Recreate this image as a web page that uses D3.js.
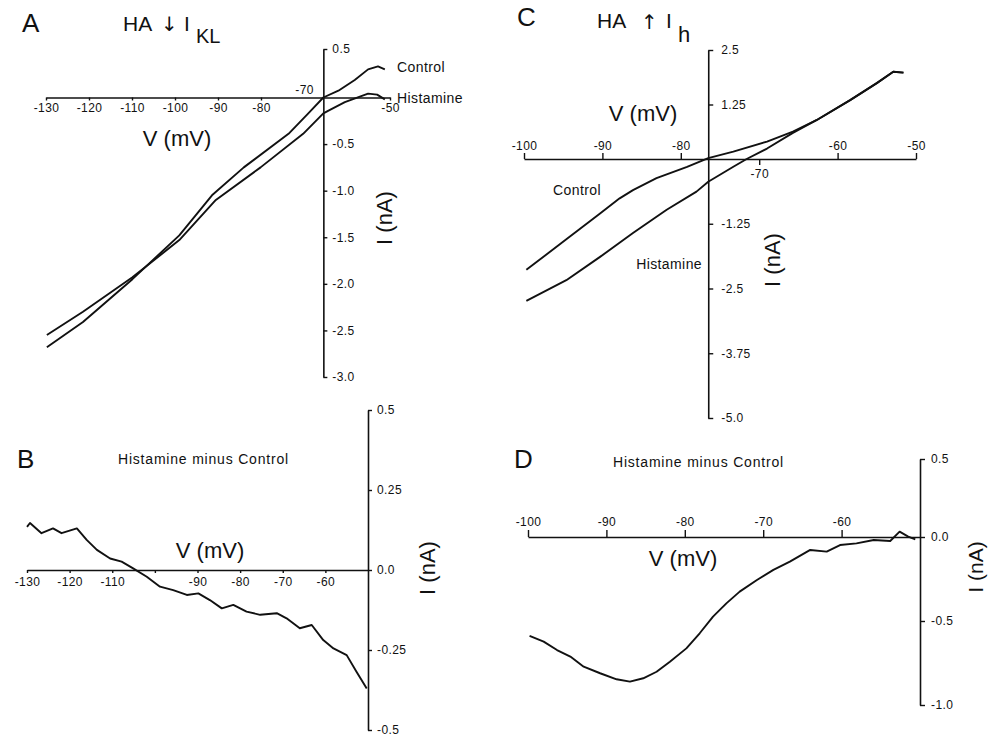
<!DOCTYPE html>
<html>
<head>
<meta charset="utf-8">
<script src="https://cdn.jsdelivr.net/npm/d3@7"></script>
<style>
body { margin: 0; background: #fff; }
text { font-family: "Liberation Sans", Arial, sans-serif; fill: #111; }
</style>
</head>
<body>
<div id="chart"></div>
<script>
// Panel A - whole cell I-V, control vs histamine (V in mV, I in nA)
var aControlV = [-129.8, -121.4, -109.9, -99.0, -91.4, -84.0, -73.6, -69.0, -65.5, -62.0, -58.2, -55.1, -52.8, -51.2];
var aControlI = [-2.68, -2.41, -1.95, -1.48, -1.05, -0.75, -0.39, -0.17, 0.0, 0.07, 0.18, 0.29, 0.32, 0.29];
var aHistV = [-129.8, -121.4, -109.9, -99.0, -90.5, -80.1, -70.2, -65.5, -64.3, -60.5, -55.1, -53.0, -51.2];
var aHistI = [-2.55, -2.30, -1.93, -1.53, -1.10, -0.75, -0.39, -0.17, -0.14, -0.05, 0.04, 0.03, -0.02];

// Panel B - histamine minus control (from A)
var bV = [-130, -129.3, -126.6, -123.9, -121.9, -118.3, -116.0, -113.6, -110.5, -107.8, -105.1, -101.9, -98.8, -95.7, -92.5,
          -89.8, -87.1, -84.3, -81.6, -78.5, -75.3, -71.4, -69.1, -66.0, -63.2, -60.5, -58.1, -55.0, -52.7, -50.3];
var bI = [0.135, 0.147, 0.115, 0.13, 0.115, 0.13, 0.094, 0.063, 0.036, 0.026, 0.005, -0.021, -0.052, -0.063, -0.078,
          -0.073, -0.094, -0.12, -0.109, -0.13, -0.14, -0.135, -0.151, -0.182, -0.172, -0.219, -0.245, -0.266, -0.318, -0.37];

// Panel C - I-V, control vs histamine
var cControlV = [-99.7, -94.6, -90.3, -87.8, -86.1, -83.1, -79.2, -76.5, -73.3, -69.0, -65.7, -62.7, -58.4, -55.0, -52.9, -51.6];
var cControlI = [-2.14, -1.55, -1.05, -0.76, -0.60, -0.37, -0.15, 0.02, 0.17, 0.40, 0.63, 0.89, 1.35, 1.74, 2.0, 1.98];
var cHistV = [-99.7, -94.6, -90.3, -86.1, -81.8, -78.0, -76.5, -73.3, -71.6, -69.0, -65.7, -62.7, -58.4, -55.0, -52.9, -51.6];
var cHistI = [-2.74, -2.34, -1.89, -1.43, -0.98, -0.63, -0.44, -0.15, 0.0, 0.24, 0.60, 0.89, 1.35, 1.74, 2.0, 1.98];

// Panel D - histamine minus control (from C)
var dV = [-99.8, -98.0, -96.3, -94.6, -92.9, -90.8, -88.7, -87.0, -85.3, -83.6, -81.9, -79.8, -78.1, -76.4, -74.7, -73.0,
          -70.8, -68.7, -66.6, -64.0, -61.9, -60.2, -58.1, -55.9, -53.8, -52.6, -51.5, -50.6];
var dI = [-0.589, -0.623, -0.673, -0.712, -0.772, -0.811, -0.847, -0.861, -0.841, -0.802, -0.742, -0.663, -0.573, -0.474, -0.395, -0.325,
          -0.256, -0.196, -0.147, -0.077, -0.087, -0.048, -0.038, -0.018, -0.024, 0.034, 0.002, -0.014];

// tick values and labels
var aXTicks = [-130, -120, -110, -100, -90, -80, -50];
var aYTicks = [0.5, -0.5, -1.0, -1.5, -2.0, -2.5, -3.0];
var aYLabels = ["0.5", "-0.5", "-1.0", "-1.5", "-2.0", "-2.5", "-3.0"];
var bXTicks = [-130, -120, -110, -100, -90, -80, -70, -60];
var bXLabels = ["-130", "-120", "-110", "", "-90", "-80", "-70", "-60"];
var bYTicks = [0.5, 0.25, 0.0, -0.25, -0.5];
var bYLabels = ["0.5", "0.25", "0.0", "-0.25", "-0.5"];
var cXTicks = [-100, -90, -80, -60, -50];
var cYTicks = [2.5, 1.25, -1.25, -2.5, -3.75, -5.0];
var cYLabels = ["2.5", "1.25", "-1.25", "-2.5", "-3.75", "-5.0"];
var dXTicks = [-100, -90, -80, -70, -60];
var dYTicks = [0.5, 0.0, -0.5, -1.0];
var dYLabels = ["0.5", "0.0", "-0.5", "-1.0"];

// where the vertical current axis crosses the voltage axis
var aAxisV = -65.5;
var cAxisV = -76.5;

var svg = d3.select("#chart").append("svg")
    .attr("width", 990)
    .attr("height", 738)
    .style("background", "#fff");

/* scales, one set per panel */
var xA = d3.scaleLinear().domain([-130, -50]).range([46, 390]);
var yA = d3.scaleLinear().domain([-3, 0, 0.5]).range([377, 97.5, 49]);
var xB = d3.scaleLinear().domain([-130, -50]).range([27, 368]);
var yB = d3.scaleLinear().domain([-0.5, 0.5]).range([730, 410]);
var xC = d3.scaleLinear().domain([-100, -50]).range([524, 916]);
var yC = d3.scaleLinear().domain([-5, 0, 2.5]).range([418, 159, 50]);
var xD = d3.scaleLinear().domain([-100, -50]).range([528, 920]);
var yD = d3.scaleLinear().domain([-1, 0, 0.5]).range([705, 537, 459]);

function styleAxis(g, fontSize)
{
    g.attr("font-family", "Liberation Sans, Arial, sans-serif")
        .attr("font-size", fontSize);
    g.select(".domain").attr("stroke", "#111").attr("stroke-width", 1.6);
    g.selectAll(".tick line").attr("stroke", "#111").attr("stroke-width", 1.4);
    g.selectAll(".tick text").attr("fill", "#111").style("letter-spacing", "0.4px");
}

function drawTrace(xs, ys, xScale, yScale)
{
    var pts = [];
    for (var i = 0; i < xs.length; i++) {
        pts.push([xs[i], ys[i]]);
    }
    var line = d3.line()
        .x(function (d) { return xScale(d[0]); })
        .y(function (d) { return yScale(d[1]); });
    svg.append("path")
        .datum(pts)
        .attr("d", line)
        .attr("fill", "none")
        .attr("stroke", "#111")
        .attr("stroke-width", 1.9)
        .attr("stroke-linejoin", "round");
}

function addText(str, x, y, size, opts)
{
    opts = opts || {};
    var t = svg.append("text")
        .attr("x", x)
        .attr("y", y)
        .attr("font-size", size)
        .attr("text-anchor", opts.anchor || "start")
        .text(str);
    if (opts.rotate) {
        t.attr("transform", "rotate(-90," + x + "," + y + ")");
    }
    if (opts.spacing) {
        t.style("letter-spacing", opts.spacing + "px");
    }
    if (opts.family) {
        t.style("font-family", opts.family);
    }
    return t;
}

/* ---------- Panel A ---------- */
var gAx = svg.append("g")
    .attr("transform", "translate(0," + yA(0) + ")")
    .call(d3.axisBottom(xA).tickValues(aXTicks).tickSize(3).tickSizeOuter(0).tickPadding(3)
        .tickFormat(function (d) { return String(d); }));
styleAxis(gAx, 12);

var gAx70 = svg.append("g")
    .attr("transform", "translate(0," + yA(0) + ")")
    .call(d3.axisTop(xA).tickValues([-70]).tickSize(0).tickPadding(4)
        .tickFormat(function (d) { return String(d); }));
styleAxis(gAx70, 12);
gAx70.select(".domain").remove();

var gAy = svg.append("g")
    .attr("transform", "translate(" + xA(aAxisV) + ",0)")
    .call(d3.axisRight(yA).tickValues(aYTicks).tickSize(4).tickSizeOuter(0).tickPadding(5)
        .tickFormat(function (d, i) { return aYLabels[i]; }));
styleAxis(gAy, 12);

drawTrace(aControlV, aControlI, xA, yA);
drawTrace(aHistV, aHistI, xA, yA);

addText("A", 22, 32, 26);
addText("HA", 123, 31, 21);
addText("\u2193", 161, 31, 20, {family: "DejaVu Sans"});
addText("I", 184, 31, 21);
addText("KL", 196, 43, 20);
addText("V  (mV)", 177, 146, 22, {anchor: "middle"});
addText("I  (nA)", 392, 218, 22, {anchor: "middle", rotate: true});
addText("Control", 397, 72, 14, {spacing: 0.4});
addText("Histamine", 397, 103, 14, {spacing: 0.4});

/* ---------- Panel B ---------- */
var gBx = svg.append("g")
    .attr("transform", "translate(0," + yB(0) + ")")
    .call(d3.axisBottom(xB).tickValues(bXTicks).tickSize(3).tickSizeOuter(0).tickPadding(4)
        .tickFormat(function (d, i) { return bXLabels[i]; }));
styleAxis(gBx, 12);

var gBy = svg.append("g")
    .attr("transform", "translate(" + xB(-50) + ",0)")
    .call(d3.axisRight(yB).tickValues(bYTicks).tickSize(4).tickSizeOuter(0).tickPadding(5)
        .tickFormat(function (d, i) { return bYLabels[i]; }));
styleAxis(gBy, 12);

drawTrace(bV, bI, xB, yB);

addText("B", 17, 468, 26);
addText("Histamine  minus  Control", 118, 464, 14, {spacing: 0.8});
addText("V  (mV)", 210, 558, 22, {anchor: "middle"});
addText("I  (nA)", 435, 568, 22, {anchor: "middle", rotate: true});

/* ---------- Panel C ---------- */
var gCx = svg.append("g")
    .attr("transform", "translate(0," + yC(0) + ")")
    .call(d3.axisTop(xC).tickValues(cXTicks).tickSize(6).tickSizeOuter(0).tickPadding(3)
        .tickFormat(function (d) { return String(d); }));
styleAxis(gCx, 12);

var gCx70 = svg.append("g")
    .attr("transform", "translate(0," + yC(0) + ")")
    .call(d3.axisBottom(xC).tickValues([-70]).tickSize(6).tickSizeOuter(0).tickPadding(4)
        .tickFormat(function (d) { return String(d); }));
styleAxis(gCx70, 12);
gCx70.select(".domain").remove();

var gCy = svg.append("g")
    .attr("transform", "translate(" + xC(cAxisV) + ",0)")
    .call(d3.axisRight(yC).tickValues(cYTicks).tickSize(5).tickSizeOuter(0).tickPadding(8)
        .tickFormat(function (d, i) { return cYLabels[i]; }));
styleAxis(gCy, 12);

drawTrace(cControlV, cControlI, xC, yC);
drawTrace(cHistV, cHistI, xC, yC);

addText("C", 517, 26, 26);
addText("HA", 597, 28, 21);
addText("\u2191", 641, 29, 20, {family: "DejaVu Sans"});
addText("I", 666, 28, 21);
addText("h", 678, 42, 22);
addText("V  (mV)", 643, 121, 22, {anchor: "middle"});
addText("I  (nA)", 780, 260, 22, {anchor: "middle", rotate: true});
addText("Control", 553, 195, 14, {spacing: 0.4});
addText("Histamine", 702, 269, 14, {anchor: "end", spacing: 0.4});

/* ---------- Panel D ---------- */
var gDx = svg.append("g")
    .attr("transform", "translate(0," + yD(0) + ")")
    .call(d3.axisTop(xD).tickValues(dXTicks).tickSize(7).tickSizeOuter(0).tickPadding(4)
        .tickFormat(function (d) { return String(d); }));
styleAxis(gDx, 12);

var gDy = svg.append("g")
    .attr("transform", "translate(" + xD(-50) + ",0)")
    .call(d3.axisRight(yD).tickValues(dYTicks).tickSize(5).tickSizeOuter(0).tickPadding(6)
        .tickFormat(function (d, i) { return dYLabels[i]; }));
styleAxis(gDy, 12);

drawTrace(dV, dI, xD, yD);

addText("D", 514, 468, 26);
addText("Histamine  minus  Control", 613, 467, 14, {spacing: 0.8});
addText("V  (mV)", 683, 566, 22, {anchor: "middle"});
addText("I  (nA)", 983, 567, 21, {anchor: "middle", rotate: true});
</script>
</body>
</html>
